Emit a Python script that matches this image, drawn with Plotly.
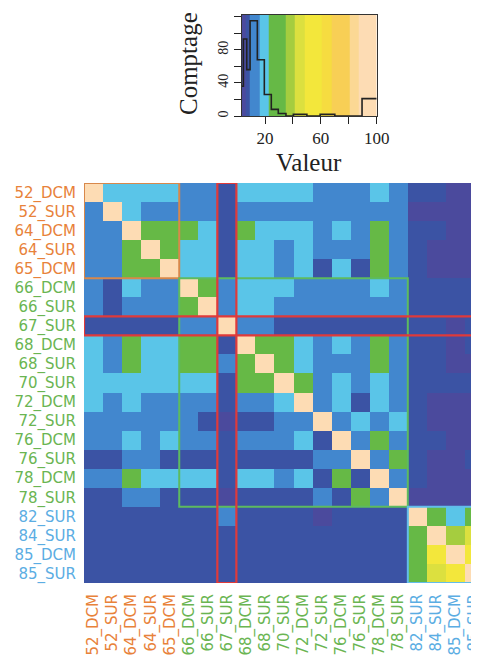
import plotly.graph_objects as go

# page has an 8px body margin, so the figure is 8px smaller and shifted
W, H = 471, 650
OFF = 8

labels = ["52_DCM", "52_SUR", "64_DCM", "64_SUR", "65_DCM", "66_DCM", "66_SUR",
          "67_SUR", "68_DCM", "68_SUR", "70_SUR", "72_DCM", "72_SUR", "76_DCM",
          "76_SUR", "78_DCM", "78_SUR", "82_SUR", "84_SUR", "85_DCM", "85_SUR"]
label_group = [0] * 5 + [1] * 12 + [2] * 4
group_colors = ["#E8823A", "#6AB552", "#5BADE3"]
box_colors = ["#D8884B", "#5DBB5F", "#62BDEB"]
red_index = 7
red_color = "#E03A3A"

# estimated cell values (row = y label, col = x label)
values = [
    [98, 18, 18, 18, 18, 12, 12, 7, 18, 18, 18, 18, 12, 12, 12, 18, 12, 7, 7, 4, 4],
    [12, 98, 18, 12, 12, 12, 12, 7, 12, 12, 12, 12, 12, 12, 12, 12, 12, 4, 4, 4, 4],
    [12, 12, 98, 28, 28, 28, 18, 7, 28, 18, 18, 18, 12, 18, 12, 28, 12, 7, 7, 4, 4],
    [12, 12, 28, 98, 28, 18, 18, 7, 18, 18, 12, 18, 12, 12, 12, 28, 12, 7, 4, 4, 4],
    [12, 12, 28, 28, 98, 18, 18, 7, 18, 18, 12, 18, 7, 18, 7, 28, 12, 7, 4, 4, 4],
    [12, 7, 18, 12, 12, 98, 28, 12, 18, 18, 18, 12, 12, 12, 12, 18, 12, 7, 7, 7, 7],
    [12, 7, 12, 12, 12, 28, 98, 12, 18, 18, 12, 12, 12, 12, 12, 12, 12, 7, 7, 7, 7],
    [7, 7, 7, 7, 7, 12, 12, 98, 12, 12, 7, 7, 7, 7, 7, 7, 7, 7, 7, 4, 7],
    [18, 12, 28, 18, 18, 28, 28, 7, 98, 28, 28, 18, 12, 18, 12, 28, 12, 7, 7, 4, 7],
    [18, 12, 28, 18, 18, 28, 28, 12, 28, 98, 28, 18, 12, 12, 12, 28, 12, 7, 7, 4, 4],
    [18, 18, 18, 18, 18, 18, 18, 7, 28, 28, 98, 28, 12, 18, 12, 18, 12, 7, 7, 7, 7],
    [18, 12, 18, 12, 12, 12, 12, 7, 12, 12, 18, 98, 12, 18, 7, 18, 12, 7, 4, 4, 4],
    [12, 12, 12, 12, 12, 12, 7, 4, 7, 7, 12, 12, 98, 12, 18, 12, 18, 7, 4, 4, 4],
    [12, 12, 18, 12, 18, 12, 12, 7, 12, 12, 12, 18, 7, 98, 12, 28, 12, 7, 7, 4, 4],
    [7, 7, 12, 12, 7, 7, 7, 7, 7, 7, 7, 7, 12, 12, 98, 12, 28, 7, 4, 4, 7],
    [12, 12, 28, 18, 18, 18, 18, 7, 18, 18, 12, 18, 7, 28, 7, 98, 12, 7, 4, 4, 4],
    [7, 7, 12, 12, 7, 7, 7, 4, 7, 7, 7, 7, 12, 7, 28, 12, 98, 4, 4, 4, 4],
    [7, 7, 7, 7, 7, 7, 7, 12, 7, 7, 7, 7, 4, 7, 7, 7, 7, 98, 28, 18, 28],
    [7, 7, 7, 7, 7, 7, 7, 7, 7, 7, 7, 7, 7, 7, 7, 7, 7, 28, 98, 38, 45],
    [7, 7, 7, 7, 7, 7, 7, 7, 7, 7, 7, 7, 7, 7, 7, 7, 7, 28, 55, 98, 55],
    [7, 7, 7, 7, 7, 7, 7, 7, 7, 7, 7, 7, 7, 7, 7, 7, 7, 28, 45, 55, 98],
]

# colour key bands
band_edges = [3.3, 6, 9.3, 16, 22.4, 35, 41.5, 48.7, 60.6, 67.8, 80.9, 86.9, 100]
band_colors = ["#4B4A9D", "#3B53A4", "#4287CE", "#5AC5E8", "#66B946", "#A5CD3F",
               "#DCE03F", "#F3E73B", "#F6DC40", "#F8CF55", "#FBD894", "#FDDCB4"]

# key histogram
hist_breaks = [3.3, 4.5, 6.9, 9.3, 14.5, 19.5, 24.5, 29.5, 35, 40.3, 50, 59.5, 70, 89.5, 100]
hist_counts = [36, 93, 56, 115, 68, 26, 8, 3, 0, 2, 0, 2, 0, 21]

zmin, zmax = band_edges[0], band_edges[-1]
colorscale = []
for i, c in enumerate(band_colors):
    p0 = (band_edges[i] - zmin) / (zmax - zmin)
    p1 = (band_edges[i + 1] - zmin) / (zmax - zmin)
    colorscale.append([p0, c])
    colorscale.append([p1, c])
colorscale[-1][0] = 1.0

n = len(labels)
idx = list(range(n))

fig = go.Figure()

fig.add_trace(go.Heatmap(
    z=values, x=idx, y=idx, colorscale=colorscale, zmin=zmin, zmax=zmax,
    showscale=False, xaxis="x", yaxis="y", hoverinfo="skip"))

band_mid = [(band_edges[i] + band_edges[i + 1]) / 2 for i in range(len(band_colors))]
fig.add_trace(go.Heatmap(
    z=[band_mid], x=band_edges, y=[0, 122], colorscale=colorscale, zmin=zmin, zmax=zmax,
    showscale=False, xaxis="x2", yaxis="y2", hoverinfo="skip"))

fig.add_trace(go.Scatter(
    x=hist_breaks, y=hist_counts + [hist_counts[-1]], mode="lines",
    line=dict(shape="hv", color="#222222", width=1.6),
    xaxis="x2", yaxis="y2", hoverinfo="skip", showlegend=False))

tick_text = ['<span style="color:%s">%s</span>' % (group_colors[g], l)
             for l, g in zip(labels, label_group)]


def px(x):
    return (x - OFF) / W


def py(y):
    return 1 - (y - OFF) / H


cell = 400 / n
left = 84 - OFF
x_right = -0.5 + (W - left) / cell

fig.update_layout(
    width=W, height=H, margin=dict(l=0, r=0, t=0, b=0),
    paper_bgcolor="white", plot_bgcolor="white", showlegend=False,
    font=dict(family="DejaVu Sans", size=15),
    xaxis=dict(domain=[px(84), 1], range=[-0.5, x_right], tickvals=idx, ticktext=tick_text,
               tickangle=-90, ticks="outside", ticklen=4, tickcolor="rgba(0,0,0,0)",
               ticklabeloverflow="allow",
               showgrid=False, zeroline=False, showline=False, automargin=False,
               tickfont=dict(family="DejaVu Sans", size=15)),
    yaxis=dict(domain=[py(583), py(183)], range=[n - 0.5, -0.5], tickvals=idx,
               ticktext=tick_text, ticks="outside", ticklen=4, tickcolor="rgba(0,0,0,0)",
               showgrid=False, zeroline=False, showline=False, automargin=False,
               tickfont=dict(family="DejaVu Sans", size=15)),
    xaxis2=dict(domain=[px(241.7), px(376.7)], anchor="y2", range=[zmin, zmax],
                tickvals=[20, 40, 60, 80, 100], ticktext=["20", "", "60", "", "100"],
                ticks="outside", ticklen=7, tickcolor="#222", showline=True, linecolor="#333",
                mirror=True, showgrid=False, zeroline=False, automargin=False,
                tickfont=dict(family="Liberation Serif", size=17, color="#222")),
    yaxis2=dict(domain=[py(116), py(15)], anchor="x2", range=[0, 122],
                tickvals=[0, 20, 40, 60, 80, 100, 120], ticktext=["0", "", "40", "", "80", "", "120"],
                tickangle=-90, ticks="outside", ticklen=7, tickcolor="#222", showline=True,
                linecolor="#333", mirror=True, showgrid=False, zeroline=False, automargin=False,
                tickfont=dict(family="Liberation Serif", size=14, color="#222")),
)

fig.add_annotation(text="Comptage", x=px(189), y=py(64), xref="paper", yref="paper",
                   textangle=-90, showarrow=False, xanchor="center", yanchor="middle",
                   font=dict(family="Liberation Serif", size=25, color="#222"))
fig.add_annotation(text="Valeur", x=px(309), y=py(162), xref="paper", yref="paper",
                   showarrow=False, xanchor="center", yanchor="middle",
                   font=dict(family="Liberation Serif", size=25, color="#222"))

# group boxes
groups = []
start = 0
for i in range(1, n + 1):
    if i == n or label_group[i] != label_group[start]:
        groups.append((start, i - 1, label_group[start]))
        start = i
for a, b, g in groups:
    fig.add_shape(type="rect", xref="x", yref="y", x0=a - 0.5, x1=b + 0.5, y0=a - 0.5, y1=b + 0.5,
                  line=dict(color=box_colors[g], width=2))

fig.add_shape(type="rect", xref="x", yref="y", x0=red_index - 0.5, x1=red_index + 0.5,
              y0=-0.5, y1=n - 0.5, line=dict(color=red_color, width=2.2))
fig.add_shape(type="rect", xref="x", yref="y", x0=-0.5, x1=n - 0.5,
              y0=red_index - 0.5, y1=red_index + 0.5, line=dict(color=red_color, width=2.2))

fig.write_html("out.html")
